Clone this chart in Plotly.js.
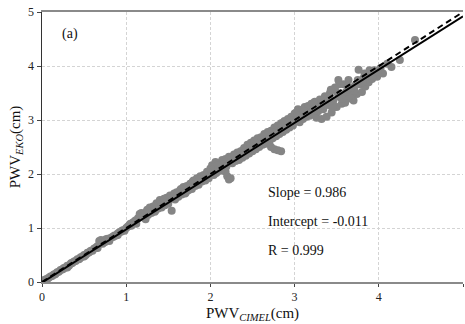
<!DOCTYPE html>
<html>
<head>
<meta charset="utf-8">
<script src="https://cdn.plot.ly/plotly-3.0.1.min.js"></script>
<style>html,body{margin:0;padding:0;background:#fff;}#chart{width:465px;height:324px;}</style>
</head>
<body>
<div id="chart"></div>
<script>
// PWV CIMEL (x) vs PWV EKO (y), cm
const pwvCimel = [
0.03,0.06,0.08,0.10,0.12,0.14,0.16,0.18,0.20,0.22,0.24,0.26,0.28,0.30,0.30,0.32,0.34,0.36,0.38,0.40,
0.42,0.44,0.46,0.48,0.50,0.50,0.52,0.54,0.56,0.58,0.60,0.62,0.64,0.66,0.66,0.68,0.70,0.72,0.74,0.76,
0.78,0.80,0.80,0.82,0.84,0.86,0.88,0.90,0.90,0.92,0.94,0.96,0.98,1.00,
1.02,1.04,1.06,1.08,1.10,1.12,1.14,1.16,1.18,1.20,1.22,1.24,1.26,1.28,1.30,1.32,1.34,1.36,1.38,1.40,
1.42,1.44,1.46,1.48,1.50,1.52,1.54,1.55,1.58,1.60,1.62,1.64,1.66,1.68,1.70,1.72,1.74,1.76,1.78,1.80,
1.82,1.84,1.86,1.88,1.90,1.92,1.94,1.96,1.98,2.00,
2.02,2.04,2.06,2.08,2.10,2.12,2.14,2.16,2.18,2.20,2.22,2.24,2.18,2.22,2.26,2.28,2.30,2.32,2.34,2.36,
2.38,2.40,2.42,2.44,2.46,2.48,2.50,2.52,2.54,2.56,2.58,2.60,2.62,2.64,2.66,2.68,2.70,2.72,2.76,2.80,
2.84,2.72,2.74,2.76,2.78,2.80,2.82,2.84,2.86,2.88,2.90,2.92,2.94,2.96,2.98,3.00,
3.02,3.04,3.06,3.08,3.10,3.12,3.14,3.16,3.18,3.20,3.22,3.24,3.26,3.28,3.30,3.32,3.34,3.36,3.38,3.40,
3.42,3.44,3.46,3.48,3.50,3.52,3.54,3.56,3.58,3.60,3.62,3.64,3.66,3.68,3.70,3.72,3.74,3.76,3.78,3.80,
3.82,3.84,3.86,3.88,3.90,3.92,3.95,3.98,4.02,4.05,4.10,4.15,4.25,4.43,
0.05,0.15,0.25,0.35,0.45,0.55,0.65,0.75,0.85,0.95,1.05,1.11,1.17,1.23,1.29,1.35,1.41,1.47,1.53,1.59,
1.65,1.71,1.77,1.83,1.89,1.95,2.01,2.07,2.13,2.19,2.25,2.31,2.37,2.43,2.49,2.55,2.61,2.67,2.73,2.79,
2.85,2.91,2.97,3.03,3.09,3.15,3.21,3.27,3.33,3.39,3.45,3.51,3.57,3.63,3.69,3.75,3.81,3.87,3.93,3.99,
1.25,1.45,1.65,1.85,2.05,2.35,2.55,2.65,2.95,3.05,3.25,3.35,3.45,3.55,3.65,3.71,3.61,3.31,3.19,2.63,
1.33,1.57,1.79,2.09,2.29,2.47,2.69,2.87,3.11,3.23,3.43,3.53,3.67,3.83,3.89
];
const pwvEko = [
0.04,0.05,0.08,0.10,0.11,0.14,0.15,0.18,0.19,0.22,0.23,0.26,0.27,0.30,0.27,0.30,0.34,0.35,0.38,0.39,
0.42,0.42,0.46,0.47,0.50,0.47,0.50,0.54,0.55,0.58,0.58,0.62,0.63,0.66,0.63,0.76,0.78,0.71,0.74,0.79,
0.80,0.80,0.76,0.82,0.84,0.86,0.86,0.90,0.87,0.92,0.93,0.96,0.95,1.00,
1.03,1.06,1.04,1.10,1.12,1.08,1.18,1.26,1.28,1.22,1.19,1.30,1.24,1.38,1.28,1.40,1.30,1.46,1.36,1.52,
1.38,1.50,1.42,1.56,1.45,1.60,1.32,1.56,1.53,1.66,1.58,1.70,1.62,1.76,1.64,1.78,1.70,1.82,1.72,1.88,
1.78,1.92,1.80,1.96,1.86,1.98,1.88,2.04,1.92,2.10,
2.16,1.98,2.22,2.04,2.20,2.06,2.26,2.10,2.04,1.96,1.90,1.92,2.28,2.32,2.20,2.36,2.24,2.40,2.26,2.42,
2.30,2.48,2.34,2.54,2.38,2.58,2.42,2.62,2.46,2.66,2.50,2.68,2.54,2.74,2.56,2.78,2.58,2.50,2.46,2.44,
2.42,2.80,2.66,2.86,2.70,2.90,2.74,2.94,2.78,2.98,2.82,3.02,2.86,3.06,2.90,3.12,
3.14,3.20,2.96,3.18,3.02,3.24,3.06,3.26,3.08,3.30,3.12,3.34,3.04,3.16,3.38,3.02,3.20,3.44,3.06,3.28,
3.50,3.14,3.36,3.60,3.24,3.74,3.42,3.30,3.66,3.32,3.48,3.74,3.40,3.56,3.36,3.64,3.48,3.93,3.66,3.52,
3.78,3.62,3.84,3.70,3.88,3.76,3.92,3.80,3.96,3.86,4.04,3.98,4.11,4.48,
0.05,0.14,0.24,0.35,0.44,0.54,0.65,0.74,0.84,0.95,1.08,1.14,1.20,1.16,1.34,1.33,1.44,1.50,1.58,1.56,
1.68,1.66,1.82,1.80,1.90,1.96,2.06,2.02,2.18,2.14,2.30,2.26,2.42,2.38,2.52,2.50,2.64,2.60,2.78,2.72,
2.90,2.86,3.04,2.98,3.08,3.20,3.16,3.28,3.22,3.40,3.30,3.50,3.40,3.62,3.50,3.74,3.70,3.82,3.82,3.90,
1.34,1.54,1.72,1.90,2.12,2.38,2.56,2.70,3.00,3.08,3.18,3.30,3.22,3.46,3.44,3.54,3.52,3.26,3.12,2.68,
1.40,1.64,1.86,2.16,2.34,2.52,2.76,2.96,3.16,3.32,3.56,3.66,3.60,3.86,3.92
];
const lineX = [0, 5];
const fitY = [-0.011, 4.919];
const oneToOneY = [0, 5];
const ticks = [0, 1, 2, 3, 4, 5];
const statLabels = ["Slope = 0.986", "Intercept = -0.011", "R = 0.999"];
const statY = [1.65, 1.12, 0.59];

const serif = "Liberation Serif";
const traces = [
  {x: pwvCimel, y: pwvEko, mode: "markers", type: "scatter",
   marker: {color: "#858585", size: 8, line: {width: 0}}, hoverinfo: "skip"},
  {x: lineX, y: oneToOneY, mode: "lines", type: "scatter",
   line: {color: "#000", width: 2, dash: "6px,4px"}},
  {x: lineX, y: fitY, mode: "lines", type: "scatter",
   line: {color: "#000", width: 2}}
];
const annotations = [
  {x: 0.21, y: 4.59, xref: "x", yref: "y", text: "(a)", showarrow: false,
   xanchor: "left", yanchor: "middle", font: {family: serif, size: 14, color: "#111"}}
];
statLabels.forEach((t, i) => annotations.push({
  x: 2.66, y: statY[i], xref: "x", yref: "y", text: t, showarrow: false,
  xanchor: "left", yanchor: "middle", font: {family: serif, size: 14, color: "#111"}
}));

const layout = {
  width: 465, height: 324,
  margin: {l: 42, r: 2, t: 12, b: 42},
  paper_bgcolor: "#fff", plot_bgcolor: "#fff",
  showlegend: false,
  font: {family: serif, size: 12, color: "#222"},
  xaxis: {
    range: [0, 5], tickvals: ticks, ticktext: ticks.map(String),
    showgrid: true, gridcolor: "#d4d4d4", griddash: "3px,2px", gridwidth: 1,
    zeroline: false, showline: true, linecolor: "#8a8a8a", linewidth: 2, mirror: true,
    ticks: "outside", ticklen: 3, tickcolor: "#444",
    tickfont: {family: serif, size: 12, color: "#222"},
    title: {text: "PWV<sub><i>CIMEL</i></sub>(cm)", font: {family: serif, size: 15, color: "#111"}, standoff: 4}
  },
  yaxis: {
    range: [0, 5], tickvals: ticks, ticktext: ticks.map(String),
    showgrid: true, gridcolor: "#d4d4d4", griddash: "3px,2px", gridwidth: 1,
    zeroline: false, showline: true, linecolor: "#333", linewidth: 1.5, mirror: false,
    ticks: "outside", ticklen: 4, tickcolor: "#444",
    tickfont: {family: serif, size: 12, color: "#222"},
    title: {text: "PWV<sub><i>EKO</i></sub>(cm)", font: {family: serif, size: 15, color: "#111"}, standoff: 4}
  },
  annotations: annotations
};
Plotly.newPlot("chart", traces, layout, {displayModeBar: false, staticPlot: true});
</script>
</body>
</html>
